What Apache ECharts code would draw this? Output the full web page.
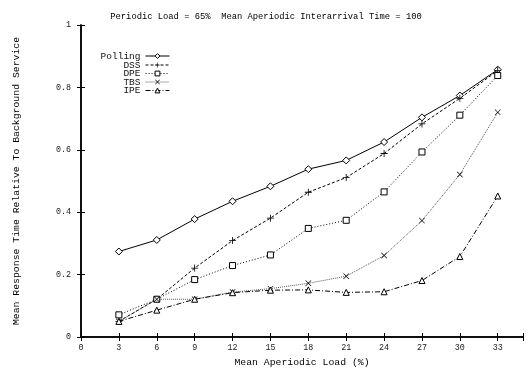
<!DOCTYPE html>
<html>
<head>
<meta charset="utf-8">
<script src="https://cdn.jsdelivr.net/npm/echarts@6/dist/echarts.min.js"></script>
<style>
  html, body { margin: 0; padding: 0; background: #fff; }
  #chart { width: 532px; height: 372px; }
</style>
</head>
<body>
<div id="chart"></div>
<script>
// Mean aperiodic load (%) on the x axis
const loads = [3, 6, 9, 12, 15, 18, 21, 24, 27, 30, 33];

// Mean response time relative to background service
const polling = [0.274, 0.311, 0.378, 0.435, 0.483, 0.538, 0.566, 0.625, 0.704, 0.774, 0.857];
const dss     = [0.050, 0.121, 0.221, 0.309, 0.381, 0.464, 0.511, 0.588, 0.683, 0.765, 0.854];
const dpe     = [0.071, 0.121, 0.184, 0.229, 0.263, 0.348, 0.374, 0.465, 0.593, 0.711, 0.838];
const tbs     = [0.050, 0.121, 0.121, 0.144, 0.155, 0.172, 0.195, 0.261, 0.373, 0.521, 0.720];
const ipe     = [0.050, 0.086, 0.121, 0.142, 0.150, 0.151, 0.143, 0.145, 0.181, 0.258, 0.452];

const seriesNames = ['Polling', 'DSS', 'DPE', 'TBS', 'IPE'];
const seriesValues = [polling, dss, dpe, tbs, ipe];

const FONT = 'Liberation Mono';
const PLUS = 'path://M4.4,0H5.6V4.4H10V5.6H5.6V10H4.4V5.6H0V4.4H4.4Z';
const CROSS = 'path://M0,0.8L0.8,0L5,4.2L9.2,0L10,0.8L5.8,5L10,9.2L9.2,10L5,5.8L0.8,10L0,9.2L4.2,5Z';

const styles = [
  { symbol: 'diamond',  size: 7, open: true,  line: { color: '#000', width: 1, type: 'solid' } },
  { symbol: PLUS,       size: 7, open: false, line: { color: '#000', width: 1, type: [3, 2] } },
  { symbol: 'rect',     size: 6, open: true,  line: { color: '#000', width: 1, type: [1, 2] } },
  { symbol: CROSS,      size: 6, open: false, line: { color: '#555', width: 1, type: [1, 1] } },
  { symbol: 'triangle', size: 6, open: true,  line: { color: '#000', width: 1, type: [5, 2, 1, 2] } }
];

const series = seriesNames.map((name, i) => {
  const s = styles[i];
  return {
    name: name,
    type: 'line',
    data: loads.map((x, k) => [x, seriesValues[i][k]]),
    symbol: s.symbol,
    symbolSize: s.size,
    showAllSymbol: true,
    lineStyle: s.line,
    itemStyle: s.open
      ? { color: '#fff', borderColor: '#000', borderWidth: 1 }
      : { color: '#000', borderWidth: 0 },
    emphasis: { disabled: true },
    animation: false
  };
});

// one legend block per entry, right-aligned at the same edge
const legendRows = [51, 60, 68.5, 77, 85.5];
const legends = seriesNames.map((name, i) => ({
  data: [name],
  orient: 'vertical',
  right: 362,
  top: legendRows[i],
  align: 'right',
  padding: 0,
  itemWidth: 24,
  itemHeight: 6,
  selectedMode: false,
  lineStyle: { width: 1 },
  itemStyle: { borderWidth: styles[i].open ? 1 : 0 },
  textStyle: { fontFamily: FONT, fontSize: 9.5, color: '#111', padding: [0, 0, 0, 0] }
}));

const frameLine = { show: true, lineStyle: { color: '#000', width: 1.5 } };
const innerTick = { show: true, inside: true, length: 4, lineStyle: { color: '#000', width: 1 } };

const chart = echarts.init(document.getElementById('chart'), null, { renderer: 'canvas' });
chart.setOption({
  backgroundColor: '#fff',
  animation: false,
  title: {
    text: 'Periodic Load = 65%  Mean Aperiodic Interarrival Time = 100',
    left: 'center',
    top: 7,
    textStyle: { fontFamily: FONT, fontSize: 8.8, fontWeight: 'normal', color: '#000' }
  },
  legend: legends,
  grid: { left: 81, right: 9, top: 25, bottom: 34, containLabel: false },
  xAxis: [
    {
      type: 'value', min: 0, max: 35, interval: 3,
      name: 'Mean Aperiodic Load (%)', nameLocation: 'middle', nameGap: 20,
      nameTextStyle: { fontFamily: FONT, fontSize: 9.8, color: '#000' },
      axisLine: frameLine, axisTick: innerTick, splitLine: { show: false },
      axisLabel: {
        fontFamily: FONT, fontSize: 8.4, color: '#222', margin: 7,
        formatter: v => (v > 33 ? '' : String(v))
      }
    },
    {
      type: 'value', min: 0, max: 35, interval: 3, position: 'top',
      axisLine: frameLine, axisTick: innerTick, splitLine: { show: false },
      axisLabel: { show: false }
    }
  ],
  yAxis: [
    {
      type: 'value', min: 0, max: 1, interval: 0.2,
      name: 'Mean Response Time Relative To Background Service',
      nameLocation: 'middle', nameGap: 60, nameRotate: 90,
      nameTextStyle: { fontFamily: FONT, fontSize: 9.8, color: '#000' },
      axisLine: frameLine, axisTick: innerTick, splitLine: { show: false },
      axisLabel: { fontFamily: FONT, fontSize: 8.4, color: '#222', margin: 10 }
    },
    {
      type: 'value', min: 0, max: 1, interval: 0.2, position: 'right',
      axisLine: frameLine, axisTick: innerTick, splitLine: { show: false },
      axisLabel: { show: false }
    }
  ],
  series: series
});
</script>
</body>
</html>
